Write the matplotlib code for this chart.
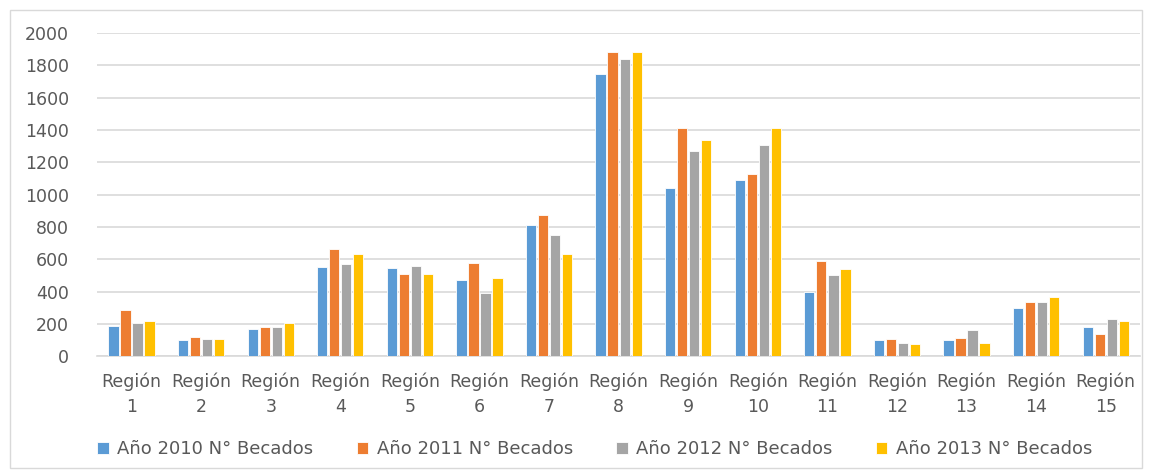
import numpy as np
import matplotlib
matplotlib.use("Agg")
from matplotlib import pyplot as plt
from matplotlib.patches import Rectangle

plt.rcParams['font.family'] = ['DejaVu Sans']

regions = ['Región\n%d' % i for i in range(1, 16)]
series_names = ['Año 2010 N° Becados', 'Año 2011 N° Becados',
                'Año 2012 N° Becados', 'Año 2013 N° Becados']
becados_2010 = [188, 98, 170, 550, 545, 470, 810, 1745, 1040, 1090, 395, 100, 100, 300, 180]
becados_2011 = [285, 121, 180, 665, 510, 575, 875, 1885, 1415, 1130, 588, 108, 115, 335, 140]
becados_2012 = [205, 106, 180, 570, 560, 393, 748, 1840, 1270, 1310, 505, 82, 165, 335, 230]
becados_2013 = [218, 106, 205, 630, 510, 487, 630, 1885, 1340, 1415, 540, 75, 82, 368, 220]
colors = ['#5B9BD5', '#ED7D31', '#A5A5A5', '#FFC000']

fig = plt.figure(figsize=(11.52, 4.73), dpi=100)
ax = fig.add_axes([0.084, 0.247, 0.906, 0.683])

# outer frame like the Excel chart area
fig.patches.append(Rectangle((0.009, 0.011), 0.982, 0.968, transform=fig.transFigure,
                             fill=False, edgecolor='#D9D9D9', linewidth=1))

x = np.arange(len(regions))
w = 0.173
all_series = [becados_2010, becados_2011, becados_2012, becados_2013]
for j, vals in enumerate(all_series):
    ax.bar(x + (j - 1.5) * w, vals, width=w * 0.85, color=colors[j],
           edgecolor='white', linewidth=0.6, label=series_names[j], zorder=3)

ax.set_xlim(-0.5, len(regions) - 0.5)
ax.set_ylim(0, 2000)
ax.set_yticks(range(0, 2001, 200))
ax.yaxis.grid(True, color='#D9D9D9', linewidth=1.2, zorder=0)
ax.set_axisbelow(True)
for s in ['top', 'right', 'left']:
    ax.spines[s].set_visible(False)
ax.spines['bottom'].set_color('#D9D9D9')
ax.spines['bottom'].set_linewidth(1.2)
ax.set_xticks(x)
ax.set_xticklabels(regions, fontsize=12.5, color='#595959', linespacing=1.45)
ax.tick_params(axis='x', length=0, pad=12)
ax.tick_params(axis='y', length=0, pad=20, labelsize=12.5, labelcolor='#595959')

leg = ax.legend(loc='center', bbox_to_anchor=(0.477, -0.288), ncol=4, frameon=False,
                fontsize=13, handlelength=0.65, handleheight=0.65, columnspacing=2.4,
                handletextpad=0.45)
for t in leg.get_texts():
    t.set_color('#595959')

plt.savefig('out.png', dpi=100)
